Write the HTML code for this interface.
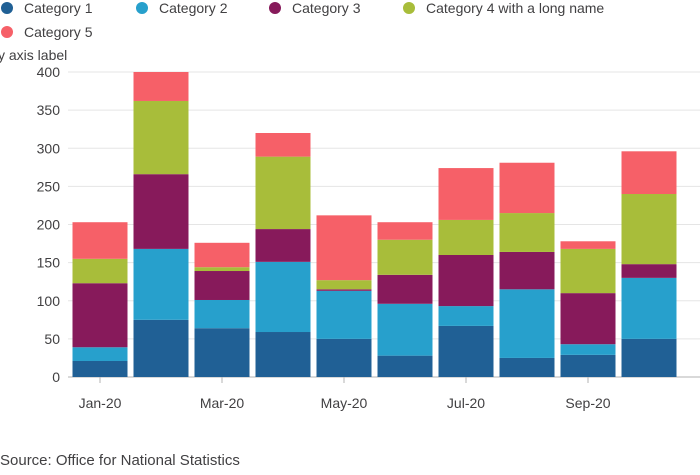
<!DOCTYPE html>
<html><head><meta charset="utf-8"><style>
body{margin:0;background:#fff;font-family:"Liberation Sans",sans-serif;}
svg text{font-family:"Liberation Sans",sans-serif;}
</style></head><body>
<svg id="chart" width="700" height="470" xmlns="http://www.w3.org/2000/svg"></svg>
<script>
const categories=["Jan-20","Feb-20","Mar-20","Apr-20","May-20","Jun-20","Jul-20","Aug-20","Sep-20","Oct-20"];
const seriesNames=["Category 1","Category 2","Category 3","Category 4 with a long name","Category 5"];
const cat1=[21,75,64,59,50,28,67,25,29,50];
const cat2=[18,93,37,92,63,68,26,90,14,80];
const cat3=[84,98,38,43,2,38,67,49,67,18];
const cat4=[32,96,5,95,12,46,46,51,58,92];
const cat5=[48,38,32,31,85,23,68,66,10,56];
const yTicks=[0,50,100,150,200,250,300,350,400];
const xLabelIdx=[0,2,4,6,8];
const series=[cat1,cat2,cat3,cat4,cat5];
const colors=["#206095","#27a0cc","#871a5b","#a8bd3a","#f66068"];
const svg=document.getElementById('chart');
const NS="http://www.w3.org/2000/svg";
function mk(t,a,p){const e=document.createElementNS(NS,t);for(const k in a)e.setAttribute(k,a[k]);(p||svg).appendChild(e);return e;}
const y0=377,yTop=72,yMax=400;
const y=v=>y0-(v/yMax)*(y0-yTop);
const band=61,x0=69.5,bw=55;
const xc=i=>x0+band*i+band/2;
yTicks.forEach(t=>{
  const l=mk('line',{x1:68,x2:700,y1:y(t),y2:y(t),stroke:t===0?'#b3b3b3':'#e5e5e5','stroke-width':1});
  
  
  const tx=mk('text',{x:60,y:y(t)+5,'text-anchor':'end','font-size':14,fill:'#414042'});
  tx.textContent=t;
  
  
});
const yl=mk('text',{x:-2,y:60,'font-size':14,fill:'#414042'});yl.textContent='y axis label';


categories.forEach((c,i)=>{
  let cum=0;
  series.forEach((s,j)=>{
    const v=s[i];
    const r=mk('rect',{x:xc(i)-bw/2,y:y(cum+v),width:bw,height:y(cum)-y(cum+v),fill:colors[j]});
    
    
    cum+=v;
  });
});
xLabelIdx.forEach(i=>{
  mk('line',{x1:xc(i),x2:xc(i),y1:y0,y2:y0+6,stroke:'#b3b3b3'});
  const t=mk('text',{x:xc(i),y:408,'text-anchor':'middle','font-size':14,fill:'#414042'});
  t.textContent=categories[i];
  
  
});
const legPos=[[7,8],[142,8],[275,8],[409,8],[7,32]];
seriesNames.forEach((n,j)=>{
  const g=mk('g',{});
  
  
  mk('circle',{cx:legPos[j][0],cy:legPos[j][1],r:6,fill:colors[j]},g);
  const t=mk('text',{x:legPos[j][0]+17,y:legPos[j][1]+5,'font-size':14,fill:'#414042'},g);
  t.textContent=n;
});
const src=mk('text',{x:0,y:465,'font-size':15,fill:'#414042'});src.textContent='Source: Office for National Statistics';


</script>
</body></html>
